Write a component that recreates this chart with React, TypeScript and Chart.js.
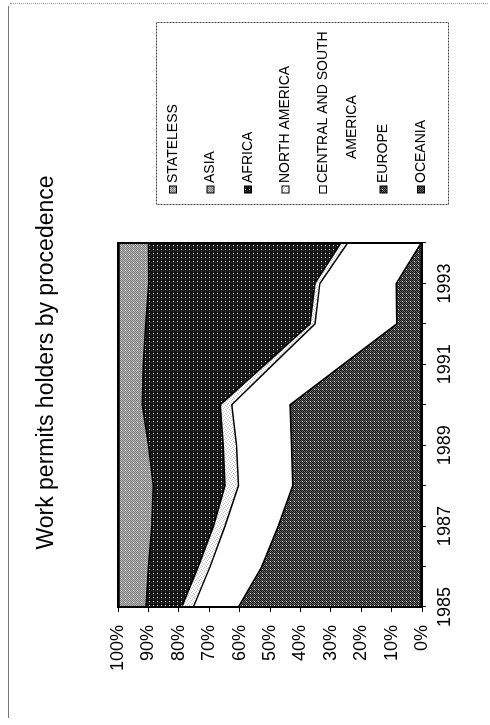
import React, { useEffect, useRef } from 'react';
import { Chart, registerables } from 'chart.js';

Chart.register(...registerables);

// ---- data (shares of work permit holders, %) ----
const years = ['1985', '1986', '1987', '1988', '1989', '1990', '1991', '1992', '1993', '1994'];
const oceania = [0.3, 0.3, 0.3, 0.3, 0.3, 0.3, 0.3, 0.3, 0.3, 0.2];
const europe = [60.1, 52.4, 47.0, 42.2, 42.6, 43.1, 25.6, 8.0, 8.2, 0.1];
const centralSouthAmerica = [14.8, 17.0, 17.5, 17.9, 18.1, 19.2, 23.0, 26.9, 25.1, 24.2];
const northAmerica = [3.8, 3.9, 3.8, 4.4, 4.4, 3.8, 2.7, 1.6, 1.6, 2.2];
const africa = [11.8, 16.4, 20.3, 23.6, 24.6, 25.6, 40.1, 54.1, 54.7, 63.3];
const asia = [8.9, 9.7, 10.8, 11.3, 9.7, 7.7, 8.0, 8.8, 9.8, 9.7];
const stateless = [0.3, 0.3, 0.3, 0.3, 0.3, 0.3, 0.3, 0.3, 0.3, 0.3];

const seriesNames = ['OCEANIA', 'EUROPE', 'CENTRAL AND SOUTH AMERICA', 'NORTH AMERICA', 'AFRICA', 'ASIA', 'STATELESS'];
const seriesValues = [oceania, europe, centralSouthAmerica, northAmerica, africa, asia, stateless];
const yTickValues = [0, 10, 20, 30, 40, 50, 60, 70, 80, 90, 100];
const shownYearLabels = ['1985', '1987', '1989', '1991', '1993'];
const titleText = 'Work permits holders by procedence';

const FONT = '"Liberation Sans", Arial, Helvetica, sans-serif';

// halftone-like tiles (style only)
const PALETTE: Record<string, string> = {
  K: '#111111',
  D: '#444444',
  G: '#777777',
  L: '#bbbbbb',
  W: '#ffffff',
};
const TILES: string[][] = [
  ['KGKG', 'GKDK', 'KGKG', 'DKGK'], // oceania
  ['KGKG', 'GKDK', 'KGKW', 'DKGK'], // europe
  ['WWWW', 'WWWW', 'WWWW', 'WWWW'], // central & south america
  ['WLWW', 'WWWL', 'WWLW', 'LWWW'], // north america
  ['KKKK', 'KDKW', 'KKKK', 'KKDK'], // africa
  ['GLGL', 'LGWG', 'GLGL', 'LGLG'], // asia
  ['GLGL', 'LGLG', 'GLGW', 'LGLG'], // stateless
];

function makePattern(rows: string[]): CanvasPattern | string {
  const c = document.createElement('canvas');
  c.width = rows[0].length;
  c.height = rows.length;
  const g = c.getContext('2d');
  if (!g) return '#888';
  rows.forEach((row, y) => {
    row.split('').forEach((ch, x) => {
      g.fillStyle = PALETTE[ch];
      g.fillRect(x, y, 1, 1);
    });
  });
  const ctx = document.createElement('canvas').getContext('2d');
  const p = ctx ? ctx.createPattern(c, 'repeat') : null;
  return p || '#888';
}

const framePlugin = {
  id: 'frame',
  afterDatasetsDraw(chart: any) {
    const { ctx, chartArea } = chart;
    ctx.save();
    ctx.strokeStyle = '#000';
    ctx.lineWidth = 2;
    ctx.strokeRect(chartArea.left, chartArea.top, chartArea.right - chartArea.left, chartArea.bottom - chartArea.top);
    ctx.restore();
  },
};

const legendPlugin = {
  id: 'boxLegend',
  afterDraw(chart: any) {
    const ctx = chart.ctx as CanvasRenderingContext2D;
    const boxLeft = 520;
    const boxTop = 156;
    const boxW = 182;
    const boxH = 292;
    ctx.save();
    ctx.strokeStyle = '#444';
    ctx.lineWidth = 1;
    ctx.setLineDash([2, 1]);
    ctx.strokeRect(boxLeft + 0.5, boxTop + 0.5, boxW, boxH);
    ctx.setLineDash([]);
    ctx.font = `14px ${FONT}`;
    ctx.textBaseline = 'middle';
    ctx.textAlign = 'left';
    const items = chart.data.datasets
      .map((d: any) => ({ label: d.label as string, fill: d.backgroundColor }))
      .reverse();
    let y = 173;
    const maxW = 160;
    items.forEach((it: any) => {
      const words = it.label.split(' ');
      const lines: string[] = [];
      let cur = '';
      words.forEach((w: string) => {
        const test = cur ? cur + ' ' + w : w;
        if (ctx.measureText(test).width > maxW && cur) {
          lines.push(cur);
          cur = w;
        } else {
          cur = test;
        }
      });
      if (cur) lines.push(cur);
      ctx.fillStyle = it.fill;
      ctx.fillRect(532, y - 3.5, 7, 7);
      ctx.strokeStyle = '#000';
      ctx.lineWidth = 1;
      ctx.strokeRect(532, y - 3.5, 7, 7);
      ctx.fillStyle = '#000';
      lines.forEach((ln, i) => {
        ctx.fillText(ln, i === 0 ? 542 : 566, y + i * 29);
      });
      y += 37.5 + (lines.length - 1) * 23;
    });
    ctx.restore();
  },
};

export default function App() {
  const canvasRef = useRef<HTMLCanvasElement | null>(null);

  useEffect(() => {
    const canvas = canvasRef.current;
    if (!canvas) return;
    const datasets = seriesValues.map((vals, i) => ({
      label: seriesNames[i],
      data: vals,
      backgroundColor: makePattern(TILES[i]),
      borderColor: '#000',
      borderWidth: 1.5,
      pointRadius: 0,
      pointHoverRadius: 0,
      tension: 0,
      fill: i === 0 ? 'origin' : '-1',
    }));

    const chart = new Chart(canvas, {
      type: 'line',
      data: { labels: years, datasets: datasets as any },
      plugins: [framePlugin, legendPlugin],
      options: {
        animation: false,
        responsive: false,
        maintainAspectRatio: false,
        layout: { padding: 0 },
        plugins: {
          legend: { display: false },
          tooltip: { enabled: false },
          title: {
            display: true,
            text: titleText,
            color: '#000',
            font: { family: FONT, size: 23, weight: 'normal' as any, lineHeight: 1.2 },
            padding: { top: 33, bottom: 57.4 },
          },
        },
        scales: {
          x: {
            type: 'category',
            offset: false,
            grid: { display: true, drawOnChartArea: false, drawTicks: true, tickLength: 4, color: '#000' },
            border: { display: false },
            ticks: {
              autoSkip: false,
              maxRotation: 0,
              minRotation: 0,
              padding: 8,
              color: '#000',
              font: { family: FONT, size: 18 },
              callback: (_v: any, idx: number) => (shownYearLabels.includes(years[idx]) ? years[idx] : ''),
            },
            afterFit: (s: any) => {
              s.height = 68;
            },
          },
          y: {
            type: 'linear',
            stacked: true,
            min: 0,
            max: 100,
            grid: { display: true, drawOnChartArea: false, drawTicks: true, tickLength: 5, color: '#000' },
            border: { display: false },
            afterBuildTicks: (s: any) => {
              s.ticks = yTickValues.map((v) => ({ value: v }));
            },
            ticks: {
              padding: 13,
              color: '#000',
              font: { family: FONT, size: 18 },
              callback: (v: any) => `${v}%`,
            },
            afterFit: (s: any) => {
              s.width = 118;
            },
          },
          legendSpace: {
            type: 'linear',
            position: 'right',
            display: true,
            grid: { display: false, drawTicks: false },
            border: { display: false },
            ticks: { display: false },
            afterFit: (s: any) => {
              s.width = 243;
            },
          },
        },
      } as any,
    });
    return () => chart.destroy();
  }, []);

  return (
    <div style={{ position: 'absolute', left: 0, top: 0, width: 490, height: 725, overflow: 'hidden', background: '#fff' }}>
      <div style={{ position: 'absolute', left: 8, top: 6, width: 1, height: 712, background: '#777' }} />
      <div style={{ position: 'absolute', left: 10, top: 3, width: 478, height: 0, borderTop: '1px dotted #999' }} />
      <canvas
        ref={canvasRef}
        width={725}
        height={490}
        style={{
          position: 'absolute',
          left: 0,
          top: 0,
          width: 725,
          height: 490,
          transformOrigin: '0 0',
          transform: 'translateY(725px) rotate(-90deg)',
        }}
      />
    </div>
  );
}
